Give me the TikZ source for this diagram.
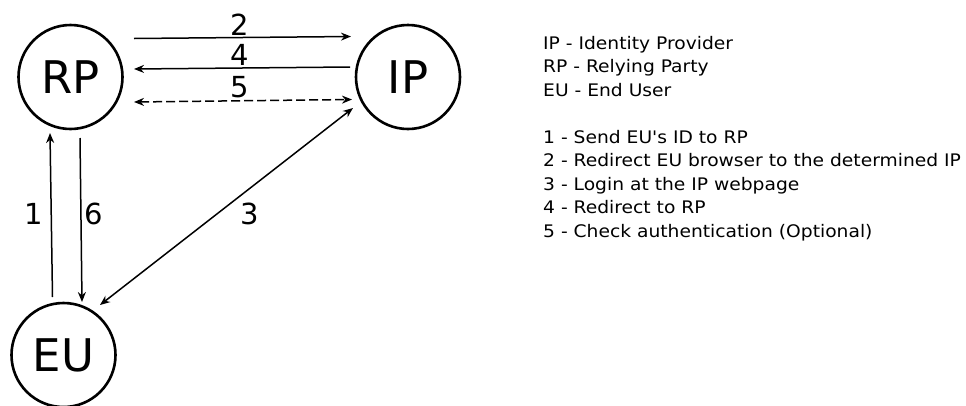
\documentclass[tikz,border=0pt]{standalone}
\usepackage{fontspec}
\setmainfont{DejaVu Sans}
\newfontfamily\legendfont[FakeStretch=1.08]{DejaVu Sans}
\usetikzlibrary{arrows.meta}
\begin{document}
\begin{tikzpicture}[x=1pt,y=-1pt,
  actor/.style={circle,draw,line width=2.6pt,minimum size=104pt,inner sep=0pt,font=\fontsize{45}{54}\selectfont},
  conn/.style={line width=1.5pt,-{Stealth[length=10pt,width=8pt]}},
  biconn/.style={line width=1.5pt,{Stealth[length=10pt,width=8pt]}-{Stealth[length=10pt,width=8pt]}},
  lbl/.style={font=\fontsize{29}{34}\selectfont,inner sep=0pt},
  legend/.style={font=\legendfont\fontsize{17.3}{23.5}\selectfont,anchor=base west,inner sep=0pt}]
\useasboundingbox (0,0) rectangle (966,405);
\node[actor] (RP) at (70.5,77) {RP};
\node[actor] (IP) at (408,77) {IP};
\node[actor] (EU) at (63.5,355) {EU};
% endpoints
\coordinate (a2s) at (134,38.5);
\coordinate (a2e) at (351,36.5);
\coordinate (a4s) at (350,67);
\coordinate (a4e) at (134,69);
\coordinate (a5s) at (134,102);
\coordinate (a5e) at (352,99.5);
\coordinate (a3s) at (353,108);
\coordinate (a3e) at (100,305);
\coordinate (a1s) at (52.5,297);
\coordinate (a1e) at (50,133);
\coordinate (a6s) at (80,138);
\coordinate (a6e) at (82,302);
\draw[conn] (a2s) -- (a2e);
\draw[conn] (a4s) -- (a4e);
\draw[biconn,dash pattern=on 9pt off 4pt] (a5s) -- (a5e);
\draw[biconn] (a3s) -- (a3e);
\draw[conn] (a1s) -- (a1e);
\draw[conn] (a6s) -- (a6e);
\node[lbl] (l2) at (240,25) {2};
\node[lbl] (l4) at (240,55) {4};
\node[lbl] (l5) at (240,87.5) {5};
\node[lbl] (l1) at (33.5,214) {1};
\node[lbl] (l6) at (94,214) {6};
\node[lbl] (l3) at (250,214) {3};
\node[legend] (t1) at (543,49) {IP - Identity Provider};
\node[legend] (t2) at (543,72.5) {RP - Relying Party};
\node[legend] (t3) at (543,96) {EU - End User};
\node[legend] (t4) at (543,143) {1 - Send EU's ID to RP};
\node[legend] (t5) at (543,166.5) {2 - Redirect EU browser to the determined IP};
\node[legend] (t6) at (543,190) {3 - Login at the IP webpage};
\node[legend] (t7) at (543,213.5) {4 - Redirect to RP};
\node[legend] (t8) at (543,237) {5 - Check authentication (Optional)};
\end{tikzpicture}
\end{document}
